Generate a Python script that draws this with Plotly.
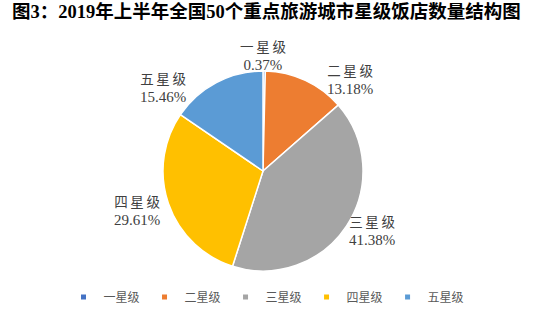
import plotly.graph_objects as go

labels = ["一星级", "二星级", "三星级", "四星级", "五星级"]
values = [0.37, 13.18, 41.38, 29.61, 15.46]
colors = ["#4472C4", "#ED7D31", "#A5A5A5", "#FFC000", "#5B9BD5"]

W, H = 533, 322
cx, cy, r = 263, 171, 100
# label anchor points (pixels from top-left), like the reference's best-fit placement
label_pos = [(263, 56), (350, 81), (372, 231), (137, 211), (163, 88)]

SERIF = "Liberation Serif, Noto Sans CJK SC"
sp = lambda s: "\u2009".join(s)

fig = go.Figure()
fig.add_trace(go.Pie(
    labels=labels, values=values, sort=False, direction="clockwise", rotation=0,
    marker=dict(colors=colors, line=dict(color="white", width=1.5)),
    textinfo="none", showlegend=False,
    hoverinfo="label+value",
    domain=dict(x=[(cx - r) / W, (cx + r) / W], y=[(H - cy - r) / H, (H - cy + r) / H]),
))

# legend entries with small square markers
for lab, col in zip(labels, colors):
    fig.add_trace(go.Scatter(x=[None], y=[None], mode="markers", name=lab,
                             marker=dict(symbol="square", size=5, color=col), showlegend=True))

for lab, val, (px, py) in zip(labels, values, label_pos):
    fig.add_annotation(x=px / W, y=1 - py / H, xref="paper", yref="paper",
                       text=f"{sp(lab)}<br><span style='font-size:15px'>{val:.2f}%</span>",
                       showarrow=False, xanchor="center", yanchor="middle", align="center",
                       font=dict(family=SERIF, size=13.5, color="#404040"))

fig.update_layout(
    width=W, height=H, margin=dict(l=0, r=0, t=0, b=0),
    paper_bgcolor="white", plot_bgcolor="white",
    xaxis=dict(visible=False), yaxis=dict(visible=False),
    title=dict(text="<b>图3：2019年上半年全国50个重点旅游城市星级饭店数量结构图</b>",
               x=0.5, xanchor="center", y=1 - 12 / H, yanchor="middle",
               font=dict(family=SERIF, size=18.5, color="black")),
    legend=dict(orientation="h", x=0.5, xanchor="center", y=1 - 297 / H, yanchor="middle",
                font=dict(family=SERIF, size=12, color="#595959"),
                itemwidth=30, traceorder="normal", tracegroupgap=0),
)

fig.write_html("out.html")
